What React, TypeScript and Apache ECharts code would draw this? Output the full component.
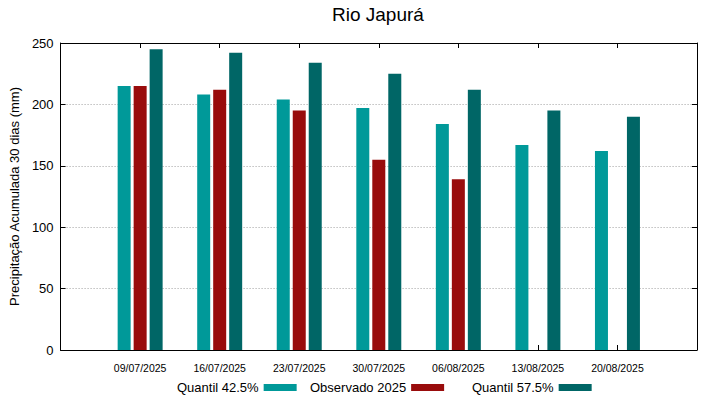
import React, { useEffect, useRef } from "react";
import * as echarts from "echarts";

const categories = ["", "09/07/2025", "16/07/2025", "23/07/2025", "30/07/2025", "06/08/2025", "13/08/2025", "20/08/2025", ""];
const quantil425 = [null, 215, 208, 204, 197, 184, 167, 162, null];
const observado2025 = [null, 215, 212, 195, 155, 139, null, null, null];
const quantil575 = [null, 245, 242, 234, 225, 212, 195, 190, null];
const yTicks = [0, 50, 100, 150, 200, 250];

const FONT = "Liberation Sans, Arial, sans-serif";
const C1 = "#009999";
const C2 = "#990c0c";
const C3 = "#006666";

export default function App() {
  const ref = useRef<HTMLDivElement>(null);
  useEffect(() => {
    const chart = echarts.init(ref.current!, undefined, { renderer: "svg" });
    const axisLine = { show: true, onZero: false, lineStyle: { color: "#000", width: 1 } };
    const tick = { show: true, inside: true, length: 5, lineStyle: { color: "#000" } };
    const legendBase = {
      orient: "horizontal" as const,
      top: 381,
      padding: 0,
      align: "right" as const,
      itemWidth: 33,
      itemHeight: 7,
      icon: "rect",
      textStyle: { fontFamily: FONT, fontSize: 13, color: "#000" },
    };
    chart.setOption({
      animation: false,
      backgroundColor: "#fff",
      title: {
        text: "Rio Japurá",
        left: 332,
        top: 5,
        padding: 0,
        textStyle: { fontFamily: FONT, fontSize: 19, fontWeight: "normal", color: "#000" },
      },
      grid: { left: 59, right: 22, top: 43, bottom: 49 },
      legend: [
        { ...legendBase, left: 177, data: ["Quantil 42.5%"] },
        { ...legendBase, left: 310, data: ["Observado 2025"] },
        { ...legendBase, left: 472, data: ["Quantil 57.5%"] },
      ],
      xAxis: [
        {
          type: "category",
          data: categories,
          boundaryGap: false,
          position: "bottom",
          axisLine,
          axisTick: tick,
          axisLabel: { fontFamily: FONT, fontSize: 10.5, color: "#000", margin: 12, interval: 0 },
          splitLine: { show: false },
        },
        {
          type: "category",
          data: categories,
          boundaryGap: false,
          position: "top",
          axisLine,
          axisTick: tick,
          axisLabel: { show: false },
          splitLine: { show: false },
        },
      ],
      yAxis: [
        {
          type: "value",
          min: yTicks[0],
          max: yTicks[yTicks.length - 1],
          interval: 50,
          position: "left",
          axisLine,
          axisTick: tick,
          axisLabel: { fontFamily: FONT, fontSize: 13, color: "#000", margin: 7 },
          splitLine: { show: true, lineStyle: { color: "#a0a0a0", type: [1, 2], width: 1 } },
          name: "Precipitação Acumulada 30 dias (mm)",
          nameLocation: "middle",
          nameGap: 30,
          nameRotate: 90,
          nameTextStyle: { fontFamily: FONT, fontSize: 13, color: "#000" },
        },
        {
          type: "value",
          min: yTicks[0],
          max: yTicks[yTicks.length - 1],
          interval: 50,
          position: "right",
          axisLine,
          axisTick: tick,
          axisLabel: { show: false },
          splitLine: { show: false },
        },
      ],
      series: [
        { name: "Quantil 42.5%", type: "bar", data: quantil425, barWidth: 13, barGap: "23%", itemStyle: { color: C1 } },
        { name: "Observado 2025", type: "bar", data: observado2025, barWidth: 13, barGap: "23%", itemStyle: { color: C2 } },
        { name: "Quantil 57.5%", type: "bar", data: quantil575, barWidth: 13, barGap: "23%", itemStyle: { color: C3 } },
      ],
    });
    return () => chart.dispose();
  }, []);
  return <div ref={ref} style={{ position: "fixed", left: 0, top: 0, width: 719, height: 399 }} />;
}
